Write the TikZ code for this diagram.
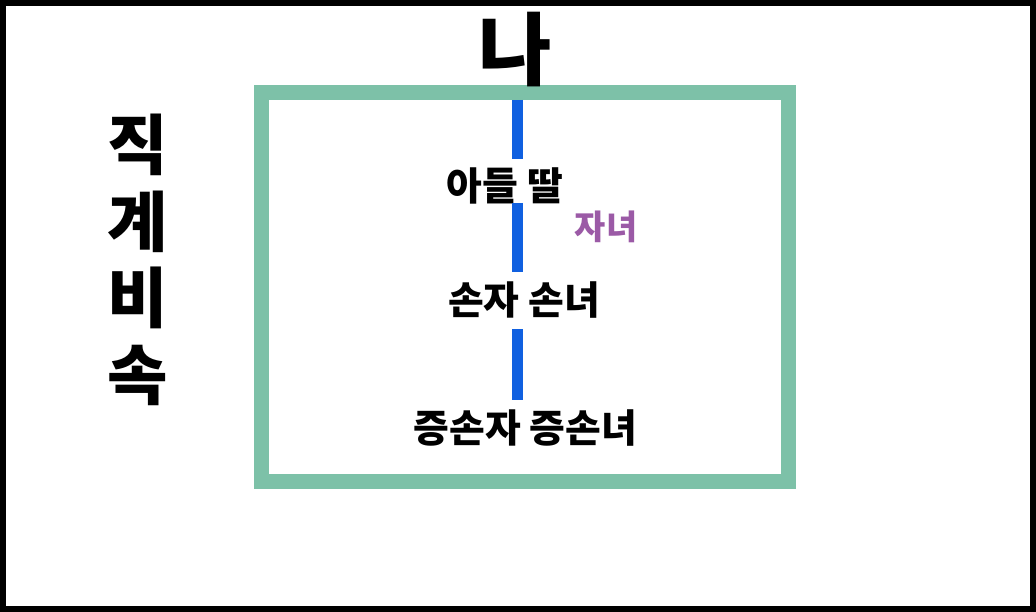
\documentclass[tikz,border=0pt]{standalone}
\usepackage{fontspec}
\setmainfont{Noto Sans CJK KR Black}
\definecolor{boxgreen}{HTML}{7DC1A8}
\definecolor{lineblue}{HTML}{1060E0}
\definecolor{labelpurple}{HTML}{9B5AA6}
\tikzset{
  lbl/.style={inner sep=0pt, font=\fontsize{39}{42}\selectfont, text=black},
  seg/.style={draw=lineblue, line width=11bp},
}
\begin{document}
\begin{tikzpicture}[x=1bp,y=-1bp]
\useasboundingbox (0,0) rectangle (1036,612);
\fill[white] (0,0) rectangle (1036,612);
\draw[line width=6bp] (3,3) rectangle (1033,609);
% green box
\draw[boxgreen, line width=15bp] (261.5,92.5) rectangle (788,481.5);
% labels
\node[inner sep=0pt, font=\fontsize{80}{84}\selectfont] (me) at (515,50) {나};
\node[lbl] (child) at (505,186) {아들 딸};
\node[inner sep=0pt, font=\fontsize{34}{36}\selectfont, text=labelpurple] (ja) at (606,226.5) {자녀};
\node[lbl] (grand) at (524,300) {손자 손녀};
\node[lbl] (great) at (525.5,428) {증손자 증손녀};
\node[inner sep=0pt, font=\fontsize{66}{80}\selectfont, align=center] (side) at (138,260)
  {직\\[-3bp]계\\[-3bp]비\\[-3bp]속};
% blue connector segments
\coordinate (s1a) at (517.5,100);
\coordinate (s1b) at (517.5,159);
\coordinate (s2a) at (517.5,203);
\coordinate (s2b) at (517.5,272);
\coordinate (s3a) at (517.5,329);
\coordinate (s3b) at (517.5,400);
\draw[seg] (s1a) -- (s1b);
\draw[seg] (s2a) -- (s2b);
\draw[seg] (s3a) -- (s3b);
\end{tikzpicture}
\end{document}
